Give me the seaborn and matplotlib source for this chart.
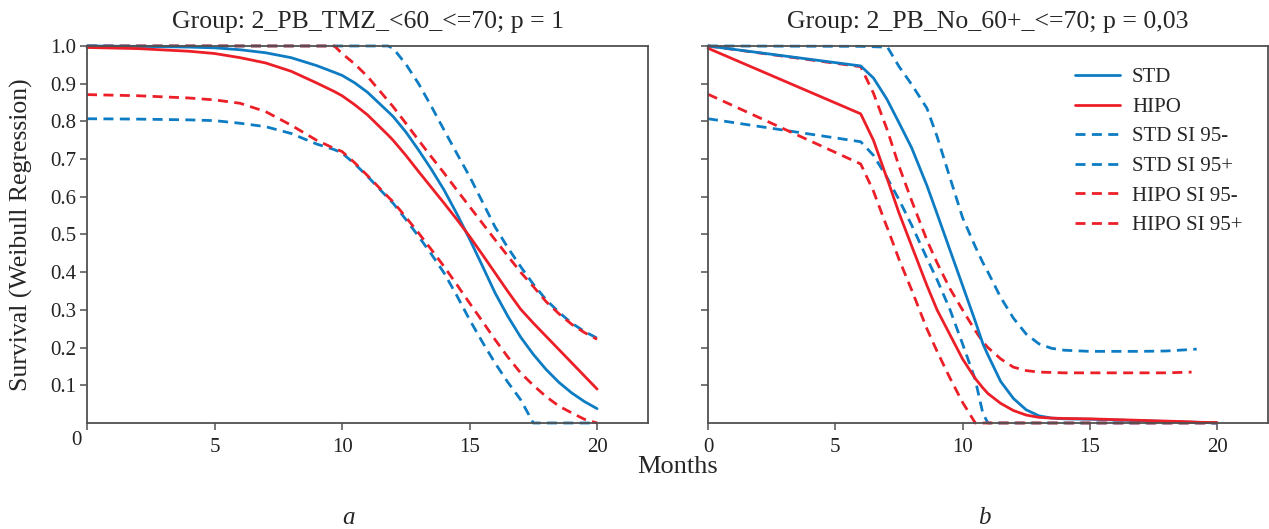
"""
Weibull regression survival curves, two groups side by side
"""

import matplotlib
matplotlib.use('Agg')
import matplotlib.pyplot as plt
from matplotlib.transforms import ScaledTranslation
import seaborn as sns
import numpy as np
import pandas as pd

# ---- data ----
nan = np.nan

# panel a: Group 2_PB_TMZ_<60_<=70
months_a = [0, 2, 4, 5, 6, 7, 8, 9, 9.7, 10, 10.5, 11, 11.8, 12, 12.5, 13, 13.5, 14, 14.5,
            15, 15.5, 16, 16.5, 17, 17.5, 18, 18.5, 19, 19.5, 20]
std_a = [1.0, 0.999, 0.997, 0.995, 0.99, 0.982, 0.969, 0.948, 0.93, 0.922, 0.902, 0.877,
         0.826, 0.813, 0.772, 0.724, 0.673, 0.618, 0.555, 0.488, 0.417, 0.345, 0.283,
         0.228, 0.182, 0.142, 0.108, 0.08, 0.057, 0.038]
hipo_a = [0.996, 0.993, 0.986, 0.98, 0.969, 0.955, 0.933, 0.902, 0.879, 0.868, 0.844, 0.817,
          0.764, 0.75, 0.71, 0.667, 0.625, 0.583, 0.54, 0.495, 0.447, 0.398, 0.349, 0.302,
          0.265, 0.23, 0.195, 0.16, 0.125, 0.09]
std_lo_a = [0.807, 0.806, 0.804, 0.802, 0.795, 0.786, 0.768, 0.74, 0.725, 0.716, 0.687,
            0.654, 0.597, 0.583, 0.54, 0.495, 0.448, 0.398, 0.338, 0.274, 0.215, 0.159,
            0.108, 0.062, 0.0, 0.0, 0.0, 0.0, 0.0, 0.0]
std_hi_a = [1.0, 1.0, 1.0, 1.0, 1.0, 1.0, 1.0, 1.0, 1.0, 1.0, 1.0, 1.0, 1.0, 0.994, 0.952,
            0.90, 0.84, 0.777, 0.715, 0.654, 0.587, 0.52, 0.465, 0.415, 0.368, 0.327,
            0.294, 0.265, 0.243, 0.225]
hipo_lo_a = [0.871, 0.868, 0.862, 0.857, 0.848, 0.826, 0.79, 0.75, 0.728, 0.72, 0.69, 0.656,
             0.6, 0.587, 0.546, 0.504, 0.46, 0.415, 0.367, 0.318, 0.27, 0.221, 0.175, 0.133,
             0.10, 0.07, 0.045, 0.027, 0.01, 0.0]
hipo_hi_a = [1.0, 1.0, 1.0, 1.0, 1.0, 1.0, 1.0, 1.0, 1.0, 0.98, 0.952, 0.919, 0.855, 0.839,
             0.795, 0.75, 0.706, 0.663, 0.618, 0.574, 0.53, 0.486, 0.443, 0.40, 0.362,
             0.322, 0.29, 0.262, 0.24, 0.222]

# panel b: Group 2_PB_No_60+_<=70
months_b = [0, 6, 6.5, 7, 7.05, 7.5, 8, 8.6, 9, 9.5, 10, 10.5, 10.8, 11, 11.5, 12, 12.5,
            13, 13.5, 14, 15, 16, 17, 18, 19, 19.2, 20]
std_b = [1.0, 0.947, 0.915, 0.862, 0.856, 0.797, 0.73, 0.63, 0.555, 0.46, 0.365, 0.27, 0.21,
         0.18, 0.11, 0.065, 0.035, 0.019, 0.013, 0.011, 0.01, 0.008, 0.006, 0.004, 0.002,
         0.002, 0.0]
hipo_b = [0.994, 0.82, 0.75, 0.655, 0.646, 0.558, 0.47, 0.365, 0.30, 0.235, 0.17, 0.118,
          0.093, 0.078, 0.052, 0.033, 0.021, 0.015, 0.013, 0.012, 0.011, 0.009, 0.007,
          0.005, 0.003, 0.002, 0.001]
std_lo_b = [0.807, 0.746, 0.71, 0.655, 0.649, 0.593, 0.525, 0.437, 0.38, 0.302, 0.21, 0.115,
            0.025, 0.0, 0.0, 0.0, 0.0, 0.0, 0.0, 0.0, 0.0, 0.0, 0.0, 0.0, 0.0, 0.0, 0.0]
std_hi_b = [1.0, 0.999, 0.998, 0.997, 0.997, 0.946, 0.898, 0.835, 0.76, 0.652, 0.545, 0.468,
            0.425, 0.40, 0.333, 0.278, 0.236, 0.21, 0.198, 0.193, 0.19, 0.19, 0.19, 0.191,
            0.195, 0.196, nan]
hipo_lo_b = [0.872, 0.687, 0.615, 0.525, 0.517, 0.435, 0.353, 0.25, 0.19, 0.12, 0.055, 0.0,
             0.0, 0.0, 0.0, 0.0, 0.0, 0.0, 0.0, 0.0, 0.0, 0.0, 0.0, 0.0, 0.0, 0.0, 0.0]
hipo_hi_b = [1.0, 0.945, 0.875, 0.785, 0.776, 0.682, 0.59, 0.485, 0.425, 0.357, 0.30, 0.245,
             0.215, 0.20, 0.17, 0.148, 0.139, 0.135, 0.134, 0.133, 0.133, 0.133, 0.133,
             0.133, 0.135, nan, nan]

series_names = ['STD', 'HIPO', 'STD SI 95-', 'STD SI 95+', 'HIPO SI 95-', 'HIPO SI 95+']
titles = ['Group: 2_PB_TMZ_<60_<=70; p = 1', 'Group: 2_PB_No_60+_<=70; p = 0,03']
panel_letters = ['a', 'b']

# ---- style ----
BLUE = '#0d7cc3'
RED = '#ec1f28'
SPINE = '#505050'
DASH = (3.6, 2.3)

sns.set_style('ticks')
plt.rcParams['font.family'] = ['Liberation Serif', 'DejaVu Serif']
plt.rcParams['axes.edgecolor'] = SPINE
plt.rcParams['axes.linewidth'] = 1.3
plt.rcParams['xtick.color'] = SPINE
plt.rcParams['ytick.color'] = SPINE
plt.rcParams['xtick.labelcolor'] = '#222222'
plt.rcParams['ytick.labelcolor'] = '#222222'

styles = {
    'STD': (BLUE, '-'),
    'HIPO': (RED, '-'),
    'STD SI 95-': (BLUE, '--'),
    'STD SI 95+': (BLUE, '--'),
    'HIPO SI 95-': (RED, '--'),
    'HIPO SI 95+': (RED, '--'),
}


def to_frame(months, columns):
    df = pd.DataFrame({'Months': months})
    for name, vals in zip(series_names, columns):
        df[name] = vals
    return df


df_a = to_frame(months_a, [std_a, hipo_a, std_lo_a, std_hi_a, hipo_lo_a, hipo_hi_a])
df_b = to_frame(months_b, [std_b, hipo_b, std_lo_b, std_hi_b, hipo_lo_b, hipo_hi_b])

fig = plt.figure(figsize=(12.69, 5.29), dpi=100)
ax_a = fig.add_axes([0.0686, 0.2004, 0.4421, 0.7127])
ax_b = fig.add_axes([0.5579, 0.2004, 0.4413, 0.7127])

for ax, df in [(ax_a, df_a), (ax_b, df_b)]:
    # draw solids last so they sit on top of the dashed bands
    order = ['STD SI 95-', 'STD SI 95+', 'HIPO SI 95-', 'HIPO SI 95+', 'STD', 'HIPO']
    for name in order:
        color, ls = styles[name]
        sub = df[['Months', name]].dropna()
        line_kws = dict(linewidth=2.0)
        if ls == '--':
            line_kws['dashes'] = DASH
        sns.lineplot(data=sub, x='Months', y=name, ax=ax, color=color,
                     label=name, legend=False, clip_on=False, **line_kws)

    ax.set_xlim(0, 22)
    ax.set_ylim(0, 1.0)
    ax.set_xticks([0, 5, 10, 15, 20])
    ax.set_yticks(np.arange(1, 11) / 10)
    ax.tick_params(axis='both', direction='out', length=5, width=1.1, labelsize=15)
    ax.tick_params(axis='x', pad=6)
    ax.tick_params(axis='y', pad=3)
    ax.set_xlabel('')
    ax.set_ylabel('')

ax_a.set_yticklabels([f'{v / 10:.1f}' for v in range(1, 11)])
ax_b.set_yticklabels([])

# the origin label of panel a sits a little left and up, at the corner
zero_lbl = ax_a.get_xticklabels()[0]
zero_lbl.set_transform(zero_lbl.get_transform()
                       + ScaledTranslation(-8 / 72, 5 / 72, fig.dpi_scale_trans))

ax_a.set_title(titles[0], fontsize=18.5, pad=13)
ax_b.set_title(titles[1], fontsize=18.5, pad=13)

ax_a.set_ylabel('Survival (Weibull Regression)', fontsize=18.5)
ax_a.yaxis.set_label_coords(-0.097, 0.5)

fig.text(0.534, 0.117, 'Months', ha='center', va='center', fontsize=19)
fig.text(0.275, 0.021, panel_letters[0], ha='center', va='center', fontsize=18, style='italic')
fig.text(0.776, 0.021, panel_letters[1], ha='center', va='center', fontsize=18, style='italic')

# legend in the right panel, order as in the original
handles, labels = ax_b.get_legend_handles_labels()
lookup = dict(zip(labels, handles))
ax_b.legend([lookup[n] for n in series_names], series_names, frameon=False,
            loc='upper right', bbox_to_anchor=(0.988, 0.992), fontsize=15,
            handlelength=2.15, handletextpad=0.6, labelspacing=0.48)

plt.savefig('out.png', dpi=100)
